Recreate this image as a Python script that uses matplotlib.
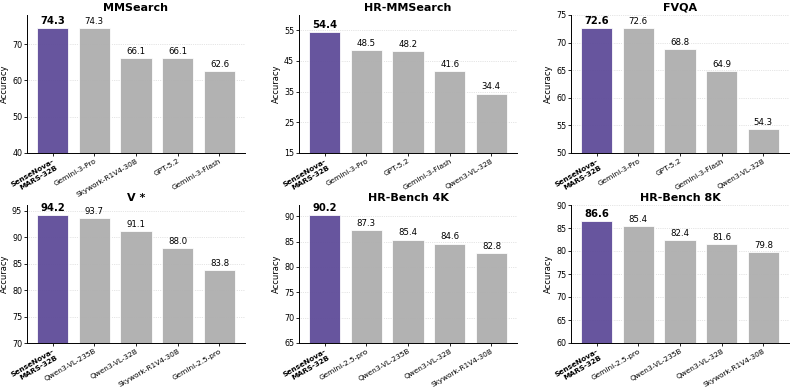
import matplotlib
matplotlib.use("Agg")
import matplotlib.pyplot as plt
import numpy as np

# data per benchmark
titles = ["MMSearch", "HR-MMSearch", "FVQA", "V *", "HR-Bench 4K", "HR-Bench 8K"]

mmsearch_models = ["SenseNova-\nMARS-32B", "Gemini-3-Pro", "Skywork-R1V4-30B", "GPT-5.2", "Gemini-3-Flash"]
mmsearch_vals = [74.3, 74.3, 66.1, 66.1, 62.6]

hrmm_models = ["SenseNova-\nMARS-32B", "Gemini-3-Pro", "GPT-5.2", "Gemini-3-Flash", "Qwen3-VL-32B"]
hrmm_vals = [54.4, 48.5, 48.2, 41.6, 34.4]

fvqa_models = ["SenseNova-\nMARS-32B", "Gemini-3-Pro", "GPT-5.2", "Gemini-3-Flash", "Qwen3-VL-32B"]
fvqa_vals = [72.6, 72.6, 68.8, 64.9, 54.3]

vstar_models = ["SenseNova-\nMARS-32B", "Qwen3-VL-235B", "Qwen3-VL-32B", "Skywork-R1V4-30B", "Gemini-2.5-pro"]
vstar_vals = [94.2, 93.7, 91.1, 88.0, 83.8]

hr4k_models = ["SenseNova-\nMARS-32B", "Gemini-2.5-pro", "Qwen3-VL-235B", "Qwen3-VL-32B", "Skywork-R1V4-30B"]
hr4k_vals = [90.2, 87.3, 85.4, 84.6, 82.8]

hr8k_models = ["SenseNova-\nMARS-32B", "Gemini-2.5-pro", "Qwen3-VL-235B", "Qwen3-VL-32B", "Skywork-R1V4-30B"]
hr8k_vals = [86.6, 85.4, 82.4, 81.6, 79.8]

all_models = [mmsearch_models, hrmm_models, fvqa_models, vstar_models, hr4k_models, hr8k_models]
all_vals = [mmsearch_vals, hrmm_vals, fvqa_vals, vstar_vals, hr4k_vals, hr8k_vals]
ylims = [(40, 78), (15, 60), (50, 75), (70, 96.1), (65, 92.2), (60, 90)]
yticks = [np.arange(40, 71, 10), np.arange(15, 56, 10), np.arange(50, 76, 5),
          np.arange(70, 96, 5), np.arange(65, 91, 5), np.arange(60, 91, 5)]

purple = "#5f4c99"
gray = "#aeaeae"

fig = plt.figure(figsize=(7.93, 3.88), dpi=100)
W, H = 793, 388
lefts = [27, 299, 571]
tops = [15, 205]
aw, ah = 218, 138

for i in range(6):
    r, c = divmod(i, 3)
    ax = fig.add_axes([lefts[c] / W, 1 - (tops[r] + ah) / H, aw / W, ah / H])
    vals = all_vals[i]
    x = np.arange(len(vals))
    colors = [purple] + [gray] * (len(vals) - 1)
    ax.bar(x, vals, width=0.75, color=colors, alpha=0.95, edgecolor="white", linewidth=0.6, zorder=3)
    for j, v in enumerate(vals):
        ax.text(j, v + (ylims[i][1] - ylims[i][0]) * 0.015, f"{v:.1f}", ha="center", va="bottom",
                fontsize=7.2 if j == 0 else 6.2, fontweight="bold" if j == 0 else "normal", color="black")
    ax.set_ylim(*ylims[i])
    ax.set_yticks(yticks[i])
    ax.set_xticks(x)
    ax.set_xticklabels(all_models[i], rotation=30, ha="right", rotation_mode="anchor", fontsize=5.3)
    ax.get_xticklabels()[0].set_fontweight("bold")
    ax.tick_params(axis="y", labelsize=5.8, length=2, width=0.6, pad=1.5)
    ax.tick_params(axis="x", length=2, width=0.6, pad=1.5)
    ax.set_ylabel("Accuracy", fontsize=6, labelpad=2)
    ax.set_title(titles[i], fontsize=8, fontweight="bold", pad=3)
    ax.spines["top"].set_visible(False)
    ax.spines["right"].set_visible(False)
    ax.spines["left"].set_linewidth(0.7)
    ax.spines["bottom"].set_linewidth(0.7)
    ax.grid(axis="y", linestyle=":", linewidth=0.5, color="#cccccc", zorder=0)
    ax.set_axisbelow(True)

plt.savefig("out.png", dpi=100)
